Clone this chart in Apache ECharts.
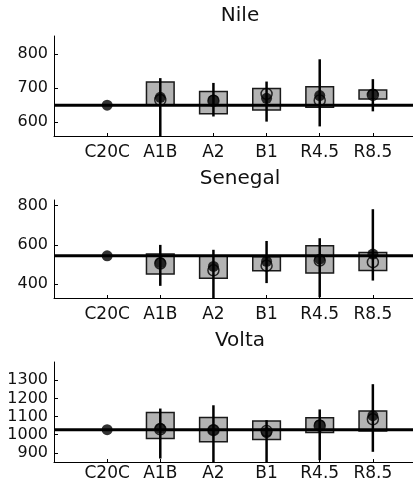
<!DOCTYPE html>
<html>
<head>
<meta charset="utf-8">
<script src="https://cdn.jsdelivr.net/npm/echarts@6/dist/echarts.min.js"></script>
<style>
  html, body { margin: 0; padding: 0; background: #fff; }
  #chart { width: 413px; height: 489px; }
</style>
</head>
<body>
<div id="chart"></div>
<script>
// scenario labels along the x axis
const categories = ['C20C', 'A1B', 'A2', 'B1', 'R4.5', 'R8.5'];

// Nile
const nileBoxLow = [null, 651, 625, 636, 644, 668];
const nileBoxHigh = [null, 718, 690, 699, 704, 694];
const nileWhiskerLow = [null, 540, 617, 602, 588, 632];
const nileWhiskerHigh = [null, 729, 715, 719, 784, 726];
const nileMean = [650, 673, 665, 670, 678, 683];
const nileOpen = [null, 665, 663, 683, 664, 680];
const nileBaseline = 650;
const nileTicks = [600, 700, 800];

// Senegal
const senegalBoxLow = [null, 452, 430, 468, 456, 469];
const senegalBoxHigh = [null, 554, 544, 540, 596, 561];
const senegalWhiskerLow = [null, 391, 310, 405, 333, 418];
const senegalWhiskerHigh = [null, 600, 575, 620, 634, 782];
const senegalMean = [544, 510, 490, 516, 527, 553];
const senegalOpen = [null, 505, 470, 494, 520, 512];
const senegalBaseline = 544;
const senegalTicks = [400, 600, 800];

// Volta
const voltaBoxLow = [null, 979, 961, 974, 1012, 1021];
const voltaBoxHigh = [null, 1122, 1095, 1075, 1093, 1131];
const voltaWhiskerLow = [null, 869, 830, 830, 860, 906];
const voltaWhiskerHigh = [null, 1144, 1162, 1080, 1139, 1278];
const voltaMean = [1028, 1035, 1027, 1012, 1055, 1105];
const voltaOpen = [null, 1030, 1025, 1020, 1050, 1085];
const voltaBaseline = 1028;
const voltaTicks = [900, 1000, 1100, 1200, 1300];

const font = 'DejaVu Sans';
const catIndex = categories.map(function (c, i) { return i; });

const panels = [
  { name: 'Nile', top: 36, height: 100, min: 560, max: 852, ticks: nileTicks, labelMargin: 8,
    boxLow: nileBoxLow, boxHigh: nileBoxHigh, wLow: nileWhiskerLow, wHigh: nileWhiskerHigh,
    mean: nileMean, open: nileOpen, base: nileBaseline, titleTop: 6 },
  { name: 'Senegal', top: 200, height: 98, min: 329, max: 829, ticks: senegalTicks, labelMargin: 8,
    boxLow: senegalBoxLow, boxHigh: senegalBoxHigh, wLow: senegalWhiskerLow, wHigh: senegalWhiskerHigh,
    mean: senegalMean, open: senegalOpen, base: senegalBaseline, titleTop: 169 },
  { name: 'Volta', top: 362, height: 100, min: 850, max: 1400, ticks: voltaTicks, labelMargin: 3,
    boxLow: voltaBoxLow, boxHigh: voltaBoxHigh, wLow: voltaWhiskerLow, wHigh: voltaWhiskerHigh,
    mean: voltaMean, open: voltaOpen, base: voltaBaseline, titleTop: 331 }
];

function pairs(lo, hi) {
  const out = [];
  categories.forEach(function (c, i) {
    if (lo[i] != null && hi[i] != null) out.push([i, lo[i], hi[i]]);
  });
  return out;
}

function points(vals) {
  const out = [];
  vals.forEach(function (v, i) {
    if (v != null) out.push([i, v]);
  });
  return out;
}

const grid = [], xAxis = [], yAxis = [], title = [], series = [];

panels.forEach(function (p, k) {
  // plot runs a little past the right edge of the picture, as in the original crop
  grid.push({ left: 54, right: -13, top: p.top, height: p.height, containLabel: false, outerBoundsMode: 'none' });
  title.push({
    text: p.name, left: 240, top: p.titleTop, textAlign: 'center', padding: 0,
    textStyle: { fontFamily: font, fontSize: 20, fontWeight: 'normal', color: '#111' }
  });
  xAxis.push({
    type: 'value', gridIndex: k, min: -1, max: 6,
    splitLine: { show: false },
    axisLine: { show: true, onZero: false, lineStyle: { color: '#000', width: 1 } },
    axisTick: { show: true, inside: true, length: 3, customValues: catIndex, lineStyle: { color: '#000' } },
    axisLabel: {
      margin: p.labelMargin, fontFamily: font, fontSize: 17, color: '#111', customValues: catIndex,
      formatter: function (v) { return categories[v] || ''; }
    }
  });
  yAxis.push({
    type: 'value', gridIndex: k, min: p.min, max: p.max,
    splitLine: { show: false },
    axisLine: { show: true, onZero: false, lineStyle: { color: '#000', width: 1 } },
    axisTick: { show: true, inside: true, length: 4, customValues: p.ticks, lineStyle: { color: '#000' } },
    axisLabel: {
      margin: 6, fontFamily: font, fontSize: 16, color: '#111', customValues: p.ticks,
      formatter: function (v) { return String(v); }
    }
  });

  // grey boxes
  series.push({
    type: 'custom', xAxisIndex: k, yAxisIndex: k, z: 1, clip: true,
    data: pairs(p.boxLow, p.boxHigh),
    renderItem: function (params, api) {
      const i = api.value(0);
      const a = api.coord([i - 0.26, api.value(2)]);
      const b = api.coord([i + 0.26, api.value(1)]);
      return {
        type: 'rect',
        shape: { x: a[0], y: a[1], width: b[0] - a[0], height: b[1] - a[1] },
        style: { fill: '#b3b3b3', stroke: '#1a1a1a', lineWidth: 1.5 }
      };
    }
  });

  // horizontal reference line
  series.push({
    type: 'line', xAxisIndex: k, yAxisIndex: k, z: 2, symbol: 'none', silent: true,
    data: [[-1, p.base], [6, p.base]],
    lineStyle: { color: '#000', width: 3 }
  });

  // whiskers
  series.push({
    type: 'custom', xAxisIndex: k, yAxisIndex: k, z: 3, clip: true,
    data: pairs(p.wLow, p.wHigh),
    renderItem: function (params, api) {
      const lo = api.coord([api.value(0), api.value(1)]);
      const hi = api.coord([api.value(0), api.value(2)]);
      return {
        type: 'line',
        shape: { x1: lo[0], y1: lo[1], x2: hi[0], y2: hi[1] },
        style: { stroke: '#000', lineWidth: 2.5 }
      };
    }
  });

  // open circles
  series.push({
    type: 'scatter', xAxisIndex: k, yAxisIndex: k, z: 4,
    symbol: 'circle', symbolSize: 11,
    data: points(p.open),
    itemStyle: { color: 'rgba(0,0,0,0)', borderColor: '#000', borderWidth: 1.5 }
  });

  // filled dots
  series.push({
    type: 'scatter', xAxisIndex: k, yAxisIndex: k, z: 5,
    symbol: 'circle', symbolSize: 11,
    data: points(p.mean),
    itemStyle: { color: '#000' }
  });
});

const chart = echarts.init(document.getElementById('chart'));
chart.setOption({
  animation: false,
  textStyle: { fontFamily: font },
  title: title,
  grid: grid,
  xAxis: xAxis,
  yAxis: yAxis,
  series: series
});
</script>
</body>
</html>
